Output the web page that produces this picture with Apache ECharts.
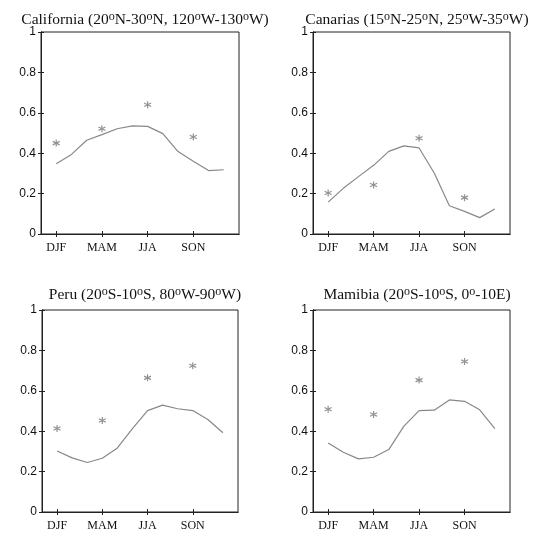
<!DOCTYPE html>
<html><head><meta charset="utf-8">
<script src="https://cdn.jsdelivr.net/npm/echarts@6/dist/echarts.min.js"></script>
<style>html,body{margin:0;padding:0;background:#fff}#c{width:536px;height:536px}</style>
</head><body><div id="c"></div>
<script>
const titles = ['California (20oN-30oN, 120oW-130oW)', 'Canarias (15oN-25oN, 25oW-35oW)', 'Peru (20oS-10oS, 80oW-90oW)', 'Mamibia (20oS-10oS, 0o-10E)'];
const seasonLabels = ['DJF', 'MAM', 'JJA', 'SON'];
const seasonPos = [1, 4, 7, 10];
const yTicks = [0, 0.2, 0.4, 0.6, 0.8, 1];
const caliLine = [0.348, 0.394, 0.464, 0.492, 0.521, 0.535, 0.533, 0.497, 0.408, 0.360, 0.314, 0.318];
const caliStars = [0.450, 0.521, 0.640, 0.480];
const canaLine = [0.158, 0.226, 0.284, 0.340, 0.409, 0.436, 0.426, 0.302, 0.140, 0.112, 0.081, 0.124];
const canaStars = [0.203, 0.243, 0.474, 0.180];
const peruLine = [0.302, 0.268, 0.245, 0.266, 0.317, 0.413, 0.502, 0.529, 0.511, 0.502, 0.458, 0.392];
const peruStars = [0.413, 0.453, 0.664, 0.724];
const mamiLine = [0.342, 0.296, 0.263, 0.271, 0.309, 0.425, 0.502, 0.504, 0.555, 0.548, 0.506, 0.413];
const mamiStars = [0.509, 0.483, 0.653, 0.745];

const lines = [caliLine, canaLine, peruLine, mamiLine];
const stars = [caliStars, canaStars, peruStars, mamiStars];
const grids = [
  {left: 41, top: 32, width: 198, height: 202},
  {left: 313, top: 32, width: 197, height: 202},
  {left: 42, top: 310, width: 196, height: 202},
  {left: 313, top: 310, width: 197, height: 202}
];
const titlePos = [[140, 6], [412, 6], [140, 281], [412, 281]];
const gray = '#888888';
const star = 'path://M0,-5L0,5M-4.33,-2.5L4.33,2.5M-4.33,2.5L4.33,-2.5';

function richTitle(s) {
  return '{t|' + s.replace(/(\d)o/g, '$1}{s|o}{t|') + '}';
}

const option = {
  animation: false,
  backgroundColor: '#fff',
  title: titles.map((t, i) => ({
    text: richTitle(t), left: titlePos[i][0], top: titlePos[i][1], textAlign: 'center',
    textStyle: {
      fontWeight: 'normal',
      rich: {
        t: {fontFamily: 'Liberation Serif', fontSize: 15.5, fontWeight: 'normal', color: '#111', lineHeight: 18},
        s: {fontFamily: 'Liberation Serif', fontSize: 12, fontWeight: 'normal', color: '#111', lineHeight: 18, verticalAlign: 'top', padding: [0, 0, 2, 0]}
      }
    }
  })),
  grid: grids.map(g => Object.assign({show: true, borderColor: '#222', borderWidth: 1, backgroundColor: 'transparent'}, g)),
  xAxis: [],
  yAxis: [],
  series: []
};

grids.forEach((g, i) => {
  option.xAxis.push({
    type: 'value', gridIndex: i, min: 0, max: 13, position: 'bottom',
    axisLine: {show: true, lineStyle: {color: '#222'}},
    splitLine: {show: false},
    axisTick: {show: true, inside: true, length: 3, customValues: seasonPos, lineStyle: {color: '#222'}},
    axisLabel: {show: true, customValues: seasonPos, margin: 8, fontFamily: 'Liberation Serif', fontSize: 12, color: '#111',
      formatter: v => seasonLabels[seasonPos.indexOf(v)]}
  });
  option.xAxis.push({
    type: 'value', gridIndex: i, min: 0, max: 13, position: 'top',
    axisLine: {show: true, lineStyle: {color: '#222'}},
    splitLine: {show: false},
    axisTick: {show: true, inside: true, length: 3, customValues: seasonPos, lineStyle: {color: '#222'}},
    axisLabel: {show: false}
  });
  option.yAxis.push({
    type: 'value', gridIndex: i, min: 0, max: 1, interval: 0.2, position: 'left',
    axisLine: {show: true, lineStyle: {color: '#222'}},
    splitLine: {show: false},
    axisTick: {show: true, inside: true, length: 3, lineStyle: {color: '#222'}},
    axisLabel: {show: true, margin: 5, fontFamily: 'Liberation Sans', fontSize: 12, color: '#111',
      formatter: v => String(+v.toFixed(1))}
  });
  option.yAxis.push({
    type: 'value', gridIndex: i, min: 0, max: 1, interval: 0.2, position: 'right',
    axisLine: {show: true, lineStyle: {color: '#222'}},
    splitLine: {show: false},
    axisTick: {show: true, inside: true, length: 3, lineStyle: {color: '#222'}},
    axisLabel: {show: false}
  });
  option.series.push({
    type: 'line', xAxisIndex: 2 * i, yAxisIndex: 2 * i,
    data: lines[i].map((v, k) => [k + 1, v]),
    symbol: 'none', lineStyle: {color: gray, width: 1.2}
  });
  option.series.push({
    type: 'scatter', xAxisIndex: 2 * i, yAxisIndex: 2 * i,
    data: stars[i].map((v, k) => [seasonPos[k], v]),
    symbol: star, symbolSize: 7,
    itemStyle: {color: 'rgba(0,0,0,0)', borderColor: '#777', borderWidth: 1.2}
  });
});

echarts.init(document.getElementById('c'), null, {renderer: 'canvas'}).setOption(option);
</script>
</body></html>
